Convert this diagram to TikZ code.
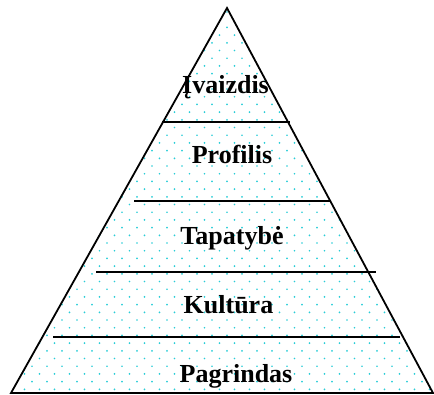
\documentclass[tikz,border=0pt]{standalone}
\usepackage{fontspec}
\setmainfont{Liberation Serif}
\definecolor{dotcyan}{RGB}{40,205,215}
\begin{document}
\begin{tikzpicture}[x=1pt,y=-1pt,
  edge/.style={line width=1.8pt,line join=miter},
  divider/.style={line width=1.8pt},
  label/.style={anchor=base,inner sep=0pt,font=\fontsize{26}{28}\selectfont\bfseries},
  dotfill/.style={fill=dotcyan}]
\useasboundingbox (0,0) rectangle (434,394);
% pyramid corners
\coordinate (top) at (227,8);
\coordinate (bl) at (11,393);
\coordinate (br) at (433,393);
% dotted background, kept inside the pyramid
\begin{scope}
  \clip (top) -- (br) -- (bl) -- cycle;
  \foreach \r in {0,...,51}{
    \pgfmathsetmacro{\yy}{397-7.7*\r}
    \pgfmathsetmacro{\off}{mod(\r,2)*7.5}
    \foreach \c in {0,...,29}{
      \fill[dotfill] ({2+\off+15*\c},\yy) circle (0.95);
    }
  }
\end{scope}
\draw[edge] (top) -- (br) -- (bl) -- cycle;
% level dividers
\coordinate (l1a) at (162,122); \coordinate (l1b) at (290,122);
\coordinate (l2a) at (134,201); \coordinate (l2b) at (330,201);
\coordinate (l3a) at (96,272);  \coordinate (l3b) at (376,272);
\coordinate (l4a) at (53,337);  \coordinate (l4b) at (400,337);
\draw[divider] (l1a) -- (l1b);
\draw[divider] (l2a) -- (l2b);
\draw[divider] (l3a) -- (l3b);
\draw[divider] (l4a) -- (l4b);
% level names
\node[label] (t1) at (225.5,93) {Įvaizdis};
\node[label] (t2) at (232,163) {Profilis};
\node[label] (t3) at (232,244) {Tapatybė};
\node[label] (t4) at (228.5,313) {Kultūra};
\node[label] (t5) at (236,382) {Pagrindas};
\end{tikzpicture}
\end{document}
